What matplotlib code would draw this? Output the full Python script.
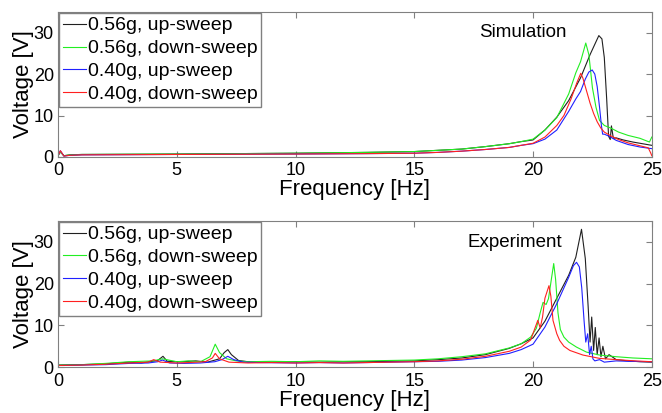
import matplotlib.pyplot as plt

plt.rcParams['font.family'] = ['Liberation Sans', 'DejaVu Sans']

labels = ['0.56g, up-sweep', '0.56g, down-sweep', '0.40g, up-sweep', '0.40g, down-sweep']
colors = ['#202020', '#22ee22', '#2020ff', '#ff2020']

# simulation curves
sim_f_up56 = [0, 0.1, 0.25, 0.5, 1, 5, 10, 13, 15, 16, 17, 18, 19, 19.5, 20, 20.5, 21, 21.5, 22,
              22.4, 22.77, 22.9, 23.0, 23.1, 23.18, 23.25, 23.3, 23.38, 23.5, 23.8, 24.2, 24.6, 25]
sim_v_up56 = [0.3, 1.2, 0.3, 0.5, 0.6, 0.7, 0.9, 1.1, 1.3, 1.6, 1.9, 2.5, 3.2, 3.7, 4.1, 6.5, 9.6, 13.6, 19.1,
              24.7, 29.3, 28.5, 24, 14, 5, 4.2, 7.5, 4.5, 4.6, 4.1, 3.6, 3.2, 2.8]
sim_f_dn56 = [0, 0.1, 0.25, 0.5, 1, 5, 10, 13, 15, 16, 17, 18, 19, 19.5, 20, 20.5, 21, 21.5, 21.8, 22.0,
              22.22, 22.35, 22.5, 22.65, 22.8, 23.0, 23.3, 23.6, 24, 24.5, 24.9, 25]
sim_v_dn56 = [0.3, 1.2, 0.3, 0.5, 0.6, 0.7, 0.9, 1.1, 1.3, 1.6, 1.9, 2.5, 3.2, 3.7, 4.3, 6.5, 9.5, 15.2, 20.3, 23,
              27.5, 24.7, 16.7, 12, 8.8, 7.6, 6.9, 6.0, 5.2, 4.5, 3.6, 4.8]
sim_f_up40 = [0, 0.1, 0.25, 0.5, 1, 5, 10, 13, 15, 16, 17, 18, 19, 19.5, 20, 20.5, 21, 21.5, 21.8, 22.0,
              22.2, 22.35, 22.49, 22.6, 22.7, 22.8, 22.88, 22.93, 23.0, 23.2, 23.5, 24, 24.5, 25]
sim_v_up40 = [0.3, 1.5, 0.2, 0.4, 0.5, 0.6, 0.7, 0.8, 0.9, 1.1, 1.4, 1.8, 2.3, 2.8, 3.2, 4.3, 6.5, 11, 14, 15.8,
              18.8, 20.5, 21, 20, 17, 12, 7.5, 5.5, 5.5, 5.0, 4.0, 3.0, 2.4, 2.0]
sim_f_dn40 = [0, 0.1, 0.25, 0.5, 1, 5, 10, 13, 15, 16, 17, 18, 19, 19.5, 20, 20.5, 21, 21.3, 21.6, 21.85,
              22.01, 22.1, 22.25, 22.4, 22.55, 22.7, 22.85, 23.0, 23.3, 23.6, 24, 24.5, 24.85, 24.95, 25]
sim_v_dn40 = [0.3, 1.5, 0.2, 0.4, 0.5, 0.6, 0.7, 0.8, 0.9, 1.1, 1.4, 1.8, 2.3, 2.8, 3.3, 4.8, 7.6, 10, 14, 18,
              20.2, 19, 16, 13, 10.5, 8.5, 7, 6.0, 5.0, 4.2, 3.4, 2.7, 2.2, 1.0, 0.3]

# experiment curves
exp_f_up56 = [0, 1, 2, 3, 3.5, 4.2, 4.42, 4.6, 5.2, 5.8, 6.3, 6.8, 7.0, 7.15, 7.3, 7.6, 8, 9, 10, 11, 12, 13,
              14, 15, 16, 17, 18, 19, 19.5, 20, 20.5, 21, 21.5, 21.8, 22.04, 22.2, 22.32, 22.4, 22.47, 22.55,
              22.62, 22.7, 22.78, 22.86, 22.94, 23.05, 23.2, 23.5, 24, 24.5, 25]
exp_v_up56 = [0.5, 0.6, 0.8, 1.2, 1.0, 1.6, 2.6, 1.4, 1.3, 1.5, 1.2, 2.0, 3.5, 4.2, 3.0, 1.6, 1.3, 1.2, 1.3,
              1.2, 1.3, 1.3, 1.4, 1.5, 1.8, 2.2, 3.0, 4.5, 5.6, 7.0, 11, 16.5, 22, 26.3, 33, 26, 14.5, 6, 12,
              4, 9.5, 3, 7, 2.5, 5, 2.0, 3, 1.8, 1.5, 1.3, 1.2]
exp_f_dn56 = [0, 1, 2, 3, 4, 4.4, 5, 5.5, 6.0, 6.4, 6.62, 6.8, 7.1, 7.5, 8, 9, 10, 11, 12, 13, 14, 15, 16,
              17, 18, 19, 19.5, 19.9, 20.14, 20.3, 20.42, 20.55, 20.65, 20.77, 20.87, 20.95, 21.05, 21.15,
              21.3, 21.5, 21.83, 22.25, 22.8, 23.5, 24.2, 25]
exp_v_dn56 = [0.5, 0.6, 0.9, 1.3, 1.5, 2.0, 1.3, 1.5, 1.3, 2.5, 5.5, 3.5, 2.0, 1.5, 1.3, 1.4, 1.3, 1.5, 1.4,
              1.5, 1.6, 1.7, 2.0, 2.5, 3.2, 4.6, 5.6, 7.2, 9.3, 13, 15.5, 15, 16.4, 21, 24.8, 21, 13, 9, 7.2,
              6, 4.8, 3.6, 2.9, 2.5, 2.2, 2.0]
exp_f_up40 = [0, 1, 2, 3, 3.8, 4.2, 4.4, 4.7, 5.3, 6.0, 6.6, 6.9, 7.15, 7.4, 7.8, 8.5, 10, 11, 12, 13, 14,
              15, 16, 17, 18, 19, 19.5, 20, 20.5, 21, 21.5, 21.7, 21.83, 21.95, 22.05, 22.15, 22.22, 22.3,
              22.38, 22.45, 22.52, 22.6, 22.8, 23, 23.5, 24, 25]
exp_v_up40 = [0.4, 0.5, 0.6, 0.9, 1.0, 1.3, 1.7, 1.0, 0.9, 1.0, 1.3, 1.8, 2.6, 1.8, 1.2, 1.1, 1.0, 1.1, 1.0,
              1.1, 1.2, 1.3, 1.4, 1.7, 2.3, 3.3, 4.2, 5.5, 9.6, 15.2, 21.5, 24.3, 25.1, 24, 19, 11, 6, 8, 3,
              5, 2, 1.5, 1.8, 1.2, 1.5, 1.4, 1.3]
exp_f_dn40 = [0, 1, 2, 3, 3.8, 4.03, 4.3, 5, 5.5, 6.2, 6.5, 6.62, 6.8, 7.2, 8, 9, 10, 11, 12, 13, 14, 15,
              16, 17, 18, 19, 19.5, 19.9, 20.2, 20.3, 20.4, 20.5, 20.67, 20.75, 20.84, 21.0, 21.12, 21.3,
              21.55, 22.1, 22.8, 23.5, 24.3, 25]
exp_v_dn40 = [0.4, 0.5, 0.7, 1.0, 1.2, 1.8, 1.2, 1.0, 1.1, 1.3, 2.2, 3.3, 2.0, 1.2, 1.0, 1.1, 1.0, 1.1, 1.0,
              1.1, 1.2, 1.3, 1.5, 1.9, 2.6, 3.8, 4.8, 6.5, 11.2, 9.4, 12, 16.5, 19.5, 17, 11.2, 8, 6.4, 5, 4,
              2.9, 2.1, 1.8, 1.5, 1.3]

sim = [(sim_f_up56, sim_v_up56), (sim_f_dn56, sim_v_dn56), (sim_f_up40, sim_v_up40), (sim_f_dn40, sim_v_dn40)]
exp = [(exp_f_up56, exp_v_up56), (exp_f_dn56, exp_v_dn56), (exp_f_up40, exp_v_up40), (exp_f_dn40, exp_v_dn40)]

fig = plt.figure(figsize=(6.62, 4.13), dpi=100)
ax1 = fig.add_axes([0.0876, 0.620, 0.897, 0.351])
ax2 = fig.add_axes([0.0876, 0.111, 0.897, 0.354])

for ax, curves, title, tx in [(ax1, sim, 'Simulation', 0.783), (ax2, exp, 'Experiment', 0.769)]:
    for (f, v), c, lab in zip(curves, colors, labels):
        ax.plot(f, v, color=c, lw=0.8, label=lab)
    ax.set_xlim(0, 25)
    ax.set_ylim(0, 35)
    ax.set_xticks([0, 5, 10, 15, 20, 25])
    ax.set_yticks([0, 10, 20, 30])
    ax.tick_params(direction='in', top=True, right=True, labelsize=13, length=4, color='#808080')
    ax.tick_params(axis='x', pad=4)
    ax.tick_params(axis='y', pad=3)
    for s in ax.spines.values():
        s.set_color('#808080')
    ax.set_xlabel('Frequency [Hz]', fontsize=16, labelpad=0)
    ax.set_ylabel('Voltage [V]', fontsize=16, labelpad=0)
    ax.text(tx, 0.855, title, transform=ax.transAxes, ha='center', va='center', fontsize=13.5)
    leg = ax.legend(loc='upper left', fontsize=14, handlelength=1.2, handletextpad=0.08,
                    borderaxespad=0.05, borderpad=0.2, labelspacing=0.27, fancybox=False,
                    framealpha=1, edgecolor='#808080')
    leg.get_frame().set_linewidth(1)

fig.savefig('out.png', dpi=100)
